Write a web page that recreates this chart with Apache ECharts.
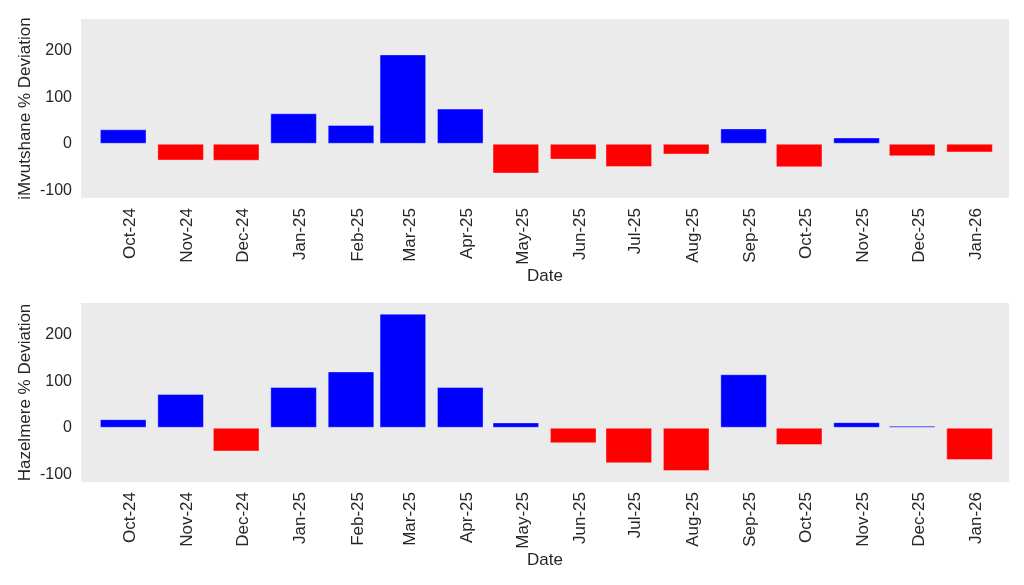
<!DOCTYPE html>
<html>
<head>
<meta charset="utf-8">
<script src="https://cdn.jsdelivr.net/npm/echarts@6/dist/echarts.min.js"></script>
<style>
html,body{margin:0;padding:0;background:#fff;}
#chart{width:1024px;height:585px;}
</style>
</head>
<body>
<div id="chart"></div>
<script>
// Month (first day) of each bar, and its tick label
const months = ['2024-10','2024-11','2024-12','2025-01','2025-02','2025-03','2025-04','2025-05','2025-06','2025-07','2025-08','2025-09','2025-10','2025-11','2025-12','2026-01'];
const monthLabels = ['Oct-24','Nov-24','Dec-24','Jan-25','Feb-25','Mar-25','Apr-25','May-25','Jun-25','Jul-25','Aug-25','Sep-25','Oct-25','Nov-25','Dec-25','Jan-26'];
// % deviation values
const imvutshane = [31, -36, -36.5, 65.5, 40.5, 192, 75.5, -64, -34, -50, -23, 33, -50.5, 13.5, -27, -18.5];
const hazelmere  = [18.5, 72.5, -51, 87.5, 121, 245, 87.5, 11.5, -33, -76, -93, 115, -37, 12, 4.5, -69.5];
const yTicks = [-100, 0, 100, 200];

// dates expressed as day numbers (days since 1970-01-01, UTC)
function dayNum(m){ const p = m.split('-'); return Date.UTC(+p[0], +p[1]-1, 1) / 86400000; }
const xs = months.map(dayNum);
const labelByDay = {};
xs.forEach((d,i)=>{ labelByDay[d] = monthLabels[i]; });

const xMin = xs[0] - 22.8;
const xMax = xs[xs.length-1] + 21.3;

const FONT = 'Liberation Sans, Arial, sans-serif';
const TXT = '#262626';

function xAxis(gridIndex){
  return {
    type:'value', gridIndex, min:xMin, max:xMax, scale:true,
    name:'Date', nameLocation:'middle', nameGap:70, nameMoveOverlap:false,
    nameTextStyle:{fontSize:17, color:TXT, fontFamily:FONT},
    axisLine:{show:false}, axisTick:{show:false}, splitLine:{show:false},
    axisLabel:{
      customValues: xs, rotate:90, margin:10,
      fontSize:17, color:TXT, fontFamily:FONT,
      verticalAlign:'top', lineHeight:14,
      formatter:(v)=>labelByDay[Math.round(v)] || ''
    }
  };
}
function yAxis(gridIndex, name){
  return {
    type:'value', gridIndex, min:-116.5, max:268,
    name, nameLocation:'middle', nameGap:47, nameRotate:90, nameMoveOverlap:false,
    nameTextStyle:{fontSize:17, color:TXT, fontFamily:FONT},
    axisLine:{show:false}, axisTick:{show:false}, splitLine:{show:false},
    axisLabel:{customValues:yTicks, margin:9, fontSize:16, color:TXT, fontFamily:FONT}
  };
}
function barSeries(idx, vals){
  return {
    type:'bar', xAxisIndex:idx, yAxisIndex:idx,
    barWidth:46.6,
    data: vals.map((v,i)=>[xs[i], v]),
    itemStyle:{
      color:(p)=> p.value[1] >= 0 ? '#0000ff' : '#ff0000',
      borderColor:'rgba(255,255,255,0.35)', borderWidth:1
    },
    emphasis:{disabled:true},
    animation:false
  };
}

const chart = echarts.init(document.getElementById('chart'), null, {renderer:'canvas'});
chart.setOption({
  animation:false,
  backgroundColor:'#ffffff',
  grid:[
    {left:81, top:19, width:928, height:179, show:true, backgroundColor:'#ebebeb', borderWidth:0},
    {left:81, top:303, width:928, height:179, show:true, backgroundColor:'#ebebeb', borderWidth:0}
  ],
  xAxis:[xAxis(0), xAxis(1)],
  yAxis:[yAxis(0,'iMvutshane % Deviation'), yAxis(1,'Hazelmere % Deviation')],
  series:[barSeries(0, imvutshane), barSeries(1, hazelmere)]
});
</script>
</body>
</html>
